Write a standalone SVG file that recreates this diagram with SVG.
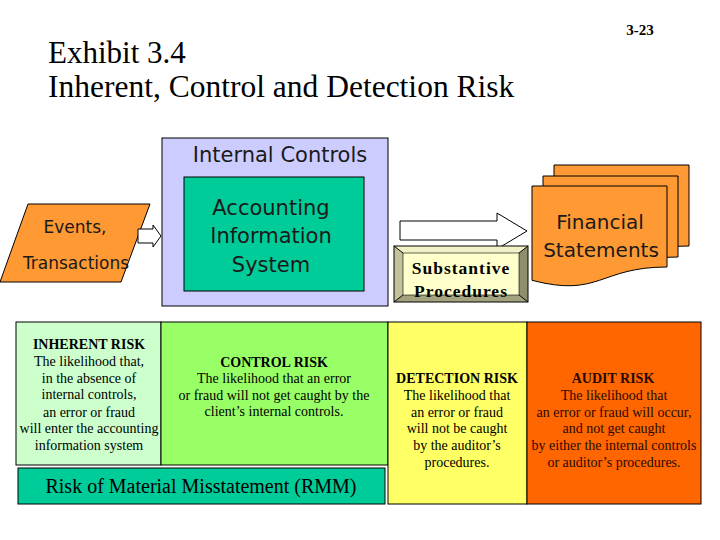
<svg xmlns="http://www.w3.org/2000/svg" width="720" height="540" viewBox="0 0 720 540">
<style>
.ser{font-family:"Liberation Serif","Times New Roman",serif;fill:#000}
.san{font-family:"DejaVu Sans",Verdana,sans-serif;fill:#1a1a1a}
.ln{stroke:#000;stroke-width:1}
.body{font-size:14px;text-anchor:middle}
.hd{font-size:14px;font-weight:bold;text-anchor:middle}
.orange{fill:#FF9933;stroke:#000;stroke-width:1}
.blk{fill:#fff;stroke:#000;stroke-width:1}
</style>
<rect width="720" height="540" fill="#fff"/>
<g id="title">
<text class="ser" x="48" y="63" font-size="31">Exhibit 3.4</text>
<text class="ser" x="48" y="97" font-size="31.5">Inherent, Control and Detection Risk</text>
<text class="ser" x="640" y="35" font-size="15" font-weight="bold" text-anchor="middle">3-23</text>
</g>
<g id="internal-controls">
<rect x="162" y="138" width="226" height="168" fill="#CCCCFF" class="ln"/>
<text class="san" x="280" y="162" font-size="21" text-anchor="middle">Internal Controls</text>
</g>
<g id="ais">
<rect x="184" y="177" width="180" height="114" fill="#00CC99" class="ln"/>
<text class="san" font-size="21" text-anchor="middle"><tspan x="271" y="215">Accounting</tspan><tspan x="271" y="243">Information</tspan><tspan x="271" y="272">System</tspan></text>
</g>
<g id="events">
<polygon points="28,204 150,204 121,282 0,282" class="orange"/>
<text class="san" font-size="17" text-anchor="middle"><tspan x="75" y="233">Events,</tspan><tspan x="76" y="269">Transactions</tspan></text>
</g>
<g id="connectors">
<polygon points="138,229 153,229 153,225 161,236 153,247 153,243 138,243" class="blk"/>
<polygon points="400,221 497,221 497,213 527,231 497,249 497,240 400,240" class="blk"/>
</g>
<g id="substantive">
<polygon points="394,246 528,246 519,253 403,253" fill="#F2F2C8"/>
<polygon points="394,246 403,253 403,295 394,302" fill="#C2C29B"/>
<polygon points="528,246 528,302 519,295 519,253" fill="#8F8F6E"/>
<polygon points="394,302 528,302 519,295 403,295" fill="#A3A37F"/>
<rect x="403" y="253" width="116" height="42" fill="#FFFFCC"/>
<path d="M394,246 L403,253 M528,246 L519,253 M394,302 L403,295 M528,302 L519,295" class="ln" fill="none"/>
<rect x="394" y="246" width="134" height="56" fill="none" class="ln"/>
<rect x="403" y="253" width="116" height="42" fill="none" stroke="#000" stroke-width="0.6"/>
<text class="ser" font-size="17.5" font-weight="bold" letter-spacing="1" text-anchor="middle"><tspan x="461" y="274">Substantive</tspan><tspan x="461" y="297">Procedures</tspan></text>
</g>
<g id="financial-statements">
<path d="M554,165 H689 V246 C621.5,246 621.5,277 554,259.3 Z" class="orange"/>
<path d="M543,176 H678 V257 C610.5,257 610.5,288 543,270.3 Z" class="orange"/>
<path d="M532,186 H667 V267 C599.5,267 599.5,298 532,280.3 Z" class="orange"/>
<text class="san" font-size="20" text-anchor="middle"><tspan x="600" y="229">Financial</tspan><tspan x="601" y="257">Statements</tspan></text>
</g>
<g id="inherent-risk">
<rect x="16" y="322" width="145" height="143" fill="#CCFFCC" class="ln"/>
<text class="ser hd" x="89" y="349">INHERENT RISK</text>
<text class="ser body"><tspan x="89" y="366">The likelihood that,</tspan><tspan x="89" y="383">in the absence of</tspan><tspan x="89" y="399">internal controls,</tspan><tspan x="89" y="417">an error or fraud</tspan><tspan x="89" y="433">will enter the accounting</tspan><tspan x="89" y="450">information system</tspan></text>
</g>
<g id="control-risk">
<rect x="161" y="322" width="227" height="143" fill="#99FF66" class="ln"/>
<text class="ser hd" x="274" y="367">CONTROL RISK</text>
<text class="ser body"><tspan x="274" y="383">The likelihood that an error</tspan><tspan x="274" y="400">or fraud will not get caught by the</tspan><tspan x="274" y="416">client’s internal controls.</tspan></text>
</g>
<g id="rmm">
<rect x="18" y="468" width="367" height="36" fill="#00CC99" class="ln"/>
<text class="ser" x="201" y="493" font-size="20" text-anchor="middle">Risk of Material Misstatement (RMM)</text>
</g>
<g id="detection-risk">
<rect x="388" y="322" width="139" height="182" fill="#FFFF66" class="ln"/>
<text class="ser hd" x="457" y="383">DETECTION RISK</text>
<text class="ser body"><tspan x="457" y="400">The likelihood that</tspan><tspan x="457" y="417">an error or fraud</tspan><tspan x="457" y="433">will not be caught</tspan><tspan x="457" y="450">by the auditor’s</tspan><tspan x="457" y="467">procedures.</tspan></text>
</g>
<g id="audit-risk">
<rect x="527" y="322" width="174" height="182" fill="#FF6600" class="ln"/>
<text class="ser hd" x="613" y="383" style="fill:#2a0a00">AUDIT RISK</text>
<text class="ser body" style="fill:#2a0a00"><tspan x="614" y="400">The likelihood that</tspan><tspan x="614" y="417">an error or fraud will occur,</tspan><tspan x="614" y="433">and not get caught</tspan><tspan x="614" y="450">by either the internal controls</tspan><tspan x="614" y="467">or auditor’s procedures.</tspan></text>
</g>
</svg>
